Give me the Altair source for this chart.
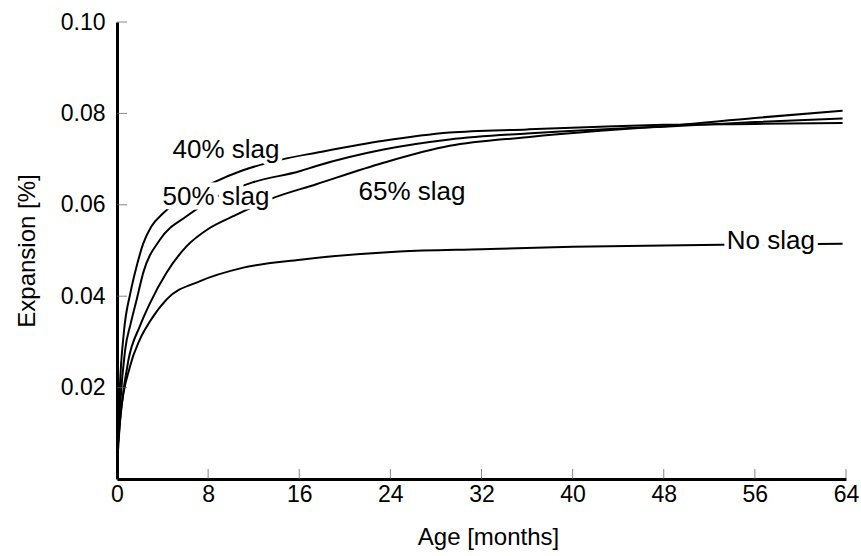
import altair as alt
import pandas as pd

# ---- data ----
age_40 = [0.1, 0.25, 0.6, 1.2, 1.73, 2.3, 3.0, 4.07, 6.0, 8.4, 11.0, 14.6, 17.5, 23.4, 29.2, 36.0, 42.4, 48.0, 56.0, 63.7]
exp_40 = [0.009, 0.020, 0.032, 0.041, 0.0466, 0.0515, 0.0552, 0.0582, 0.0617, 0.0648, 0.0675, 0.0700, 0.0714, 0.0740, 0.0758, 0.0765, 0.0771, 0.0775, 0.0777, 0.0779]

age_50 = [0.1, 0.3, 0.7, 1.2, 1.73, 2.3, 3.78, 6.1, 8.7, 11.9, 16.1, 17.5, 23.4, 29.2, 36.0, 42.4, 48.0, 56.0, 63.7]
exp_50 = [0.008, 0.017, 0.028, 0.034, 0.0393, 0.0451, 0.0524, 0.0575, 0.0617, 0.0649, 0.0674, 0.0685, 0.0721, 0.0743, 0.0756, 0.0765, 0.0771, 0.0781, 0.0789]

age_65 = [0.1, 0.4, 1.0, 2.0, 2.9, 4.36, 6.1, 8.0, 10.2, 13.4, 17.5, 23.4, 29.2, 36.0, 42.4, 48.0, 56.0, 63.7]
exp_65 = [0.008, 0.016, 0.026, 0.0334, 0.0385, 0.0452, 0.0509, 0.0547, 0.0575, 0.0612, 0.0645, 0.0692, 0.0729, 0.0748, 0.0762, 0.0772, 0.0790, 0.0806]

age_0 = [0.1, 0.3, 1.14, 2.0, 2.9, 4.36, 7.3, 11.0, 16.1, 24.8, 32.0, 40.0, 48.0, 56.0, 63.7]
exp_0 = [0.0065, 0.0137, 0.0246, 0.0305, 0.0345, 0.0393, 0.0433, 0.0462, 0.0480, 0.0498, 0.0503, 0.0508, 0.0511, 0.0513, 0.0515]

series_names = ["40% slag", "50% slag", "65% slag", "No slag"]

x_tick_values = [0, 8, 16, 24, 32, 40, 48, 56, 64]
y_tick_values = [0.02, 0.04, 0.06, 0.08, 0.10]

label_text = ["40% slag", "50% slag", "65% slag", "No slag"]
label_age = [9.57, 8.69, 25.9, 57.4]
label_exp = [0.0721, 0.0616, 0.0627, 0.0521]

# ---- tables ----
rows = []
for name, ages, vals in zip(series_names, [age_40, age_50, age_65, age_0], [exp_40, exp_50, exp_65, exp_0]):
    for a, v in zip(ages, vals):
        rows.append({"series": name, "age": a, "exp": v})
df = pd.DataFrame(rows)
labels_df = pd.DataFrame({"text": label_text, "age": label_age, "exp": label_exp})
xt_df = pd.DataFrame({"age": x_tick_values[1:]})
yt_df = pd.DataFrame({"exp": y_tick_values})

FONT = "Liberation Sans"
x_scale = alt.Scale(domain=[0, 64], nice=False, zero=False)
y_scale = alt.Scale(domain=[0, 0.10], nice=False)
x_axis = alt.Axis(values=x_tick_values, format="d", title="Age [months]", labelPadding=4,
                  titlePadding=19, labelFlush=False, titleX=371)
y_axis = alt.Axis(values=y_tick_values, format=".2f", title="Expansion [%]", labelPadding=12,
                  titlePadding=21, labelFlush=False)

X = alt.X("age:Q", scale=x_scale, axis=x_axis)
Y = alt.Y("exp:Q", scale=y_scale, axis=y_axis)

lines = alt.Chart(df).mark_line(color="black", strokeWidth=2, interpolate="monotone").encode(
    x=X, y=Y, detail="series:N",
)

xticks = alt.Chart(xt_df).mark_tick(orient="vertical", size=10, thickness=1, color="#555", yOffset=-5).encode(
    x=X, y=alt.datum(0, scale=y_scale),
)
yticks = alt.Chart(yt_df).mark_tick(orient="horizontal", size=10, thickness=1, color="#555", xOffset=5).encode(
    y=Y, x=alt.datum(0, scale=x_scale),
)

halo = alt.Chart(labels_df).mark_text(font=FONT, fontSize=26, color="white", stroke="white",
                                     strokeWidth=9, baseline="middle", align="center").encode(
    x=X, y=Y, text="text:N",
)
text = alt.Chart(labels_df).mark_text(font=FONT, fontSize=26, color="black",
                                     baseline="middle", align="center").encode(
    x=X, y=Y, text="text:N",
)

chart = alt.layer(lines, xticks, yticks, halo, text).properties(
    width=729, height=457,
    padding={"left": 117, "top": 22, "right": 15, "bottom": 77},
    autosize=alt.AutoSizeParams(type="none"),
    background="white",
).configure_view(stroke=None).configure_axis(
    domainColor="black", domainWidth=3, ticks=False, grid=False,
    labelFont=FONT, labelFontSize=23, labelColor="black",
    titleFont=FONT, titleFontSize=24, titleFontWeight="normal", titleColor="black",
)

chart.save("out.html", embed_options={"renderer": "svg", "actions": False})
